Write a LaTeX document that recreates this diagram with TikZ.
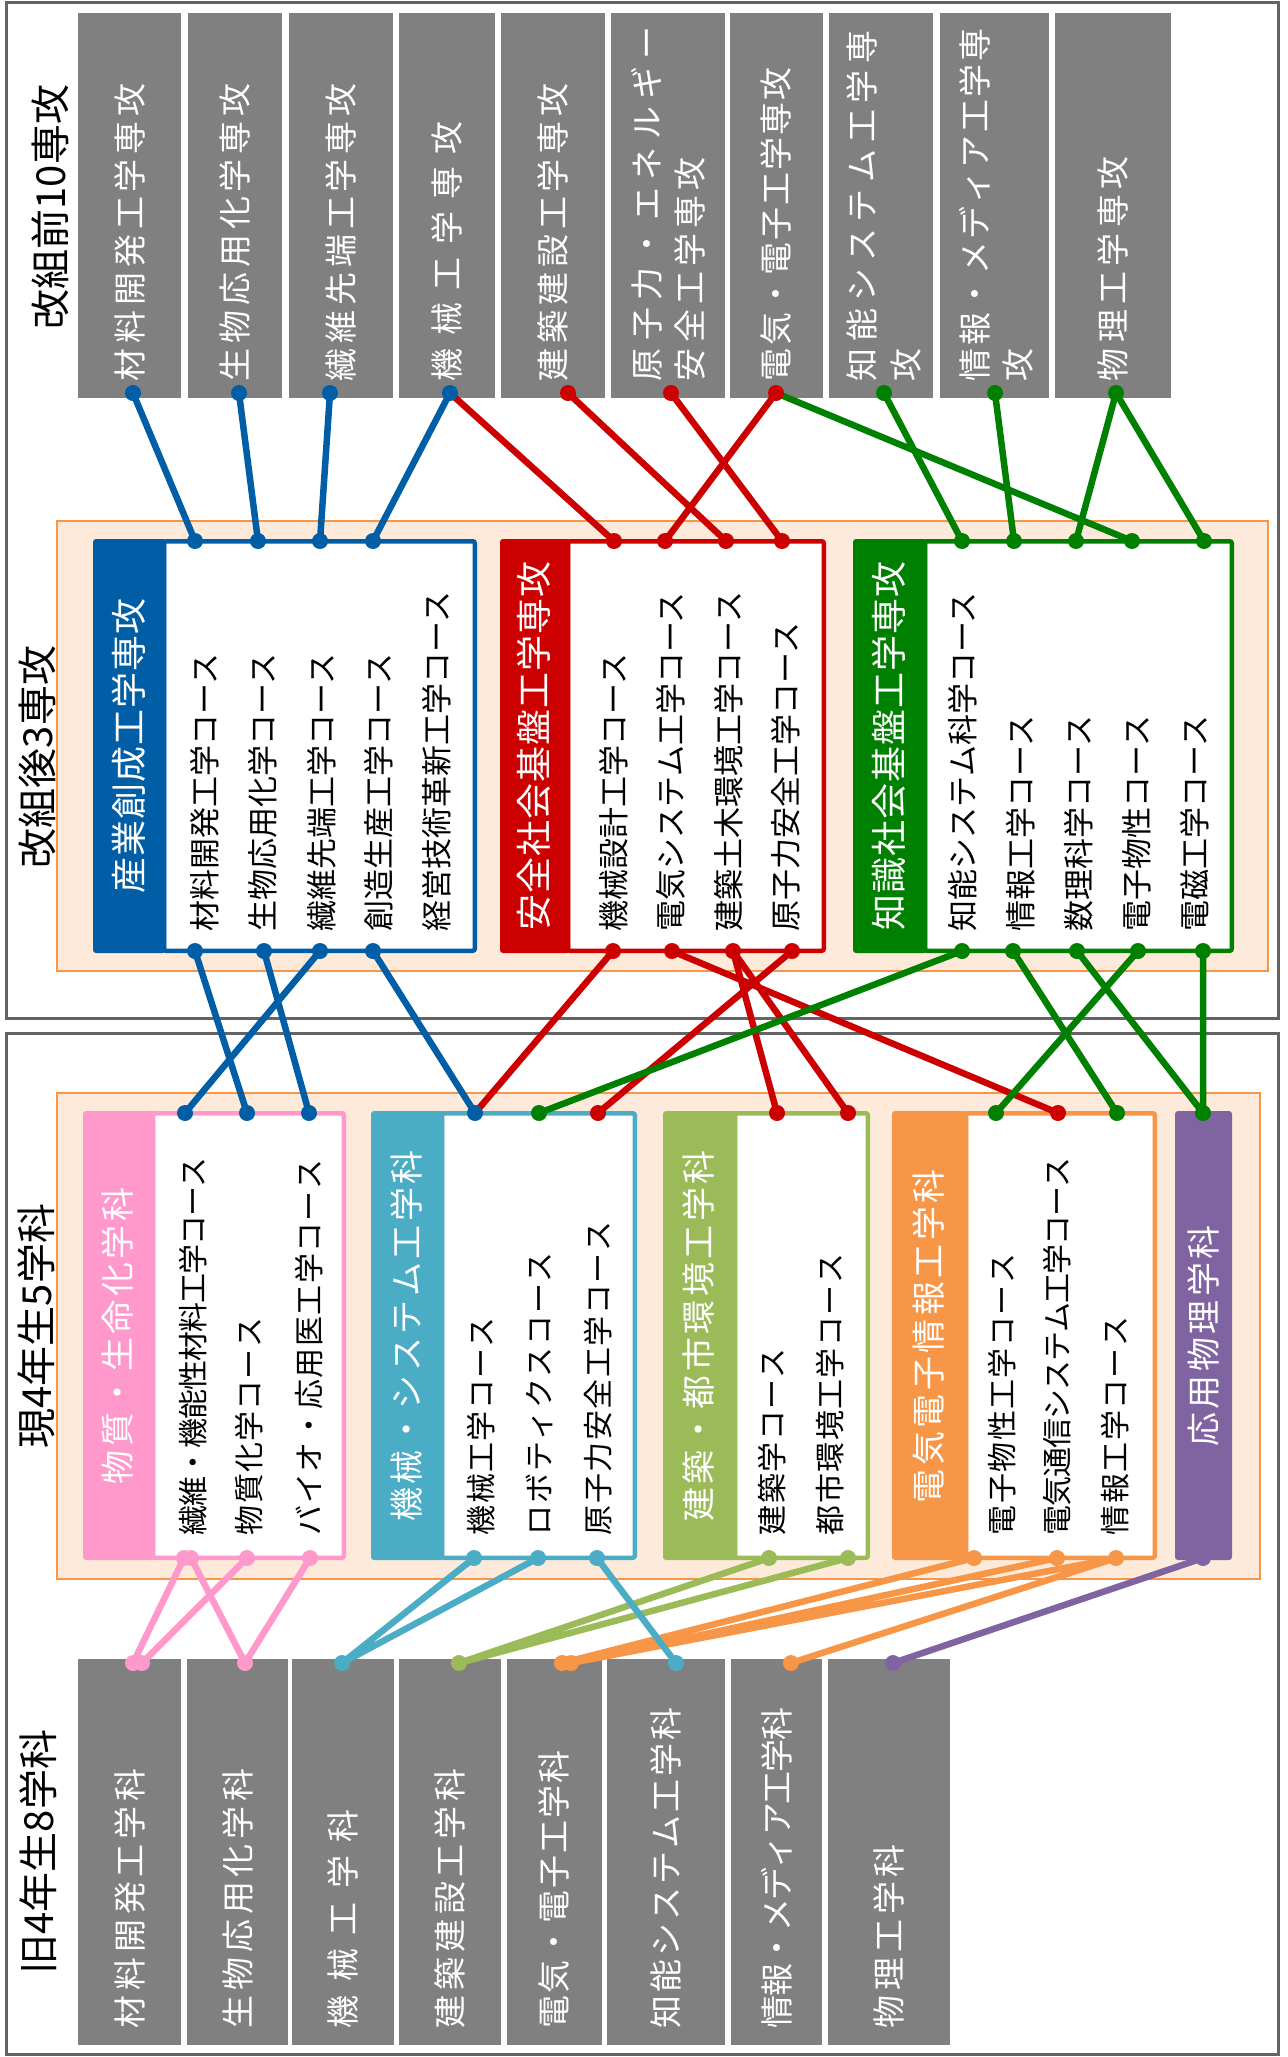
\documentclass[tikz,border=0pt]{standalone}
\usepackage{fontspec}
\setmainfont{Noto Sans CJK JP}
\ExplSyntaxOn
\NewDocumentCommand{\spacedtext}{mm}{\tl_map_inline:nn {#2} {##1\kern #1pt}\unkern}
\ExplSyntaxOff
\definecolor{cblue}{RGB}{0,94,166}
\definecolor{cred}{RGB}{204,0,0}
\definecolor{cgreen}{RGB}{0,128,0}
\definecolor{cpink}{RGB}{255,153,204}
\definecolor{ccyan}{RGB}{75,172,198}
\definecolor{colive}{RGB}{155,187,89}
\definecolor{corange}{RGB}{247,150,70}
\definecolor{cpurple}{RGB}{128,100,162}
\definecolor{cgray}{RGB}{128,128,128}
\definecolor{cpeach}{RGB}{253,234,218}
\definecolor{cframe}{RGB}{100,100,100}
\tikzset{
  conn/.style={line width=6.5pt},
  vtxt/.style={rotate=90, inner sep=0pt, outer sep=0pt},
  titletxt/.style={vtxt, text=black, font=\fontsize{40}{44}\selectfont},
  graytxt/.style={vtxt, anchor=west, text=white, font=\fontsize{33}{38}\selectfont},
  headtxt/.style={vtxt, text=white, font=\fontsize{36}{40}\selectfont},
  subhead/.style={vtxt, text=white, font=\fontsize{34}{38}\selectfont},
  coursea/.style={vtxt, anchor=west, text=black, font=\fontsize{31}{36}\selectfont},
  courseb/.style={vtxt, anchor=west, text=black, font=\fontsize{30}{34}\selectfont},
  graybox/.style={fill=cgray},
  peachbox/.style={fill=cpeach, draw=corange, line width=2pt},
  outerframe/.style={draw=cframe, line width=3pt},
  contentbox/.style={fill=white, line width=4.5pt, rounded corners=2pt},
  headbox/.style={rounded corners=3pt},
}
\begin{document}
\begin{tikzpicture}[x=1pt,y=-1pt]
\useasboundingbox (0,0) rectangle (1288,2057);
\fill[white] (0,0) rectangle (1288,2057);

% ---------- frames ----------
\draw[outerframe] (6,2.5) rectangle (1278,1018);
\draw[outerframe] (6,1033) rectangle (1278,2054);

% ---------- titles ----------
\node[titletxt] (title1) at (50,207) {改組前10専攻};
\node[titletxt] (title2) at (37,757) {改組後3専攻};
\node[titletxt] (title3) at (36,1326) {現4年生5学科};
\node[titletxt] (title4) at (38,1852) {旧4年生8学科};

% ---------- top gray boxes ----------
\fill[graybox] (78,13) rectangle (181,398);
\fill[graybox] (188,13) rectangle (282,398);
\fill[graybox] (289,13) rectangle (393,398);
\fill[graybox] (399,13) rectangle (495,398);
\fill[graybox] (501,13) rectangle (605,398);
\fill[graybox] (611,13) rectangle (725,398);
\fill[graybox] (730,13) rectangle (823,398);
\fill[graybox] (829,13) rectangle (933,398);
\fill[graybox] (940,13) rectangle (1049,398);
\fill[graybox] (1055,13) rectangle (1171,398);

\node[graytxt] (g1t) at (129.5,381) {\spacedtext{4.8}{材料開発工学専攻}};
\node[graytxt] (g2t) at (235,381) {\spacedtext{4.8}{生物応用化学専攻}};
\node[graytxt] (g3t) at (341,381) {\spacedtext{4.8}{繊維先端工学専攻}};
\node[graytxt] (g4t) at (447,381) {\spacedtext{12.4}{機械工学専攻}};
\node[graytxt] (g5t) at (553,381) {\spacedtext{4.8}{建築建設工学専攻}};
\node[graytxt] (g6t) at (647,381) {\spacedtext{7.2}{原子力・エネルギー}};
\node[graytxt] (g6u) at (690,381) {\spacedtext{5.1}{安全工学専攻}};
\node[graytxt] (g7t) at (776.5,381) {\spacedtext{2.1}{電気・電子工学専攻}};
\node[graytxt] (g8t) at (862,381) {\spacedtext{6.7}{知能システム工学専}};
\node[graytxt] (g8u) at (906,381) {攻};
\node[graytxt] (g9t) at (975,381) {\spacedtext{2.5}{情報・メディア工学専}};
\node[graytxt] (g9u) at (1018,381) {攻};
\node[graytxt] (g10t) at (1113,381) {\spacedtext{5.3}{物理工学専攻}};

% ---------- middle section (after reorganisation) ----------
\draw[peachbox] (57,521) rectangle (1268,971);

\draw[contentbox, draw=cblue] (164,541.25) rectangle (474.75,950.75);
\fill[cblue, headbox] (93,539) rectangle (166,953);
\draw[contentbox, draw=cred] (568,541.25) rectangle (823.75,950.75);
\fill[cred, headbox] (500,539) rectangle (570,953);
\draw[contentbox, draw=cgreen] (925,541.25) rectangle (1231.75,950.75);
\fill[cgreen, headbox] (853,539) rectangle (927,953);

\node[headtxt] (hblue) at (128.5,746) {\spacedtext{1}{産業創成工学専攻}};
\node[headtxt] (hred) at (534,746) {\spacedtext{1}{安全社会基盤工学専攻}};
\node[headtxt] (hgreen) at (889,746) {\spacedtext{1}{知識社会基盤工学専攻}};

\node[coursea] (ca1) at (205,931) {材料開発工学コース};
\node[coursea] (ca2) at (263,931) {生物応用化学コース};
\node[coursea] (ca3) at (322,931) {繊維先端工学コース};
\node[coursea] (ca4) at (379,931) {創造生産工学コース};
\node[coursea] (ca5) at (437,931) {経営技術革新工学コース};
\node[coursea] (cr1) at (614,931) {機械設計工学コース};
\node[coursea] (cr2) at (671,931) {電気システム工学コース};
\node[coursea] (cr3) at (729,931) {建築土木環境工学コース};
\node[coursea] (cr4) at (786,931) {原子力安全工学コース};
\node[coursea] (cg1) at (963,931) {知能システム科学コース};
\node[coursea] (cg2) at (1021,931) {情報工学コース};
\node[coursea] (cg3) at (1079,931) {数理科学コース};
\node[coursea] (cg4) at (1137,931) {電子物性コース};
\node[coursea] (cg5) at (1195,931) {電磁工学コース};

% ---------- lower section (current departments) ----------
\draw[peachbox] (57,1093) rectangle (1260,1579);

\draw[contentbox, draw=cpink] (153,1113.25) rectangle (343.75,1557.75);
\fill[cpink, headbox] (83,1111) rectangle (155,1560);
\draw[contentbox, draw=ccyan] (442,1113.25) rectangle (634.75,1557.75);
\fill[ccyan, headbox] (371,1111) rectangle (444,1560);
\draw[contentbox, draw=colive] (735,1113.25) rectangle (867.75,1557.75);
\fill[colive, headbox] (663,1111) rectangle (737,1560);
\draw[contentbox, draw=corange] (966,1113.25) rectangle (1154.75,1557.75);
\fill[corange, headbox] (892,1111) rectangle (968,1560);
\fill[cpurple, headbox] (1175,1111) rectangle (1232,1560);

\node[subhead] (hpink) at (118,1336) {\spacedtext{3.5}{物質・生命化学科}};
\node[subhead] (hcyan) at (406.5,1336) {\spacedtext{3.5}{機械・システム工学科}};
\node[subhead] (holive) at (699,1336) {\spacedtext{3.5}{建築・都市環境工学科}};
\node[subhead] (horange) at (929,1336) {\spacedtext{3.5}{電気電子情報工学科}};
\node[subhead] (hpurple) at (1203.5,1336) {\spacedtext{3.5}{応用物理学科}};

\node[courseb] (cp1) at (193,1535) {\spacedtext{-1}{繊維・機能性材料工学コース}};
\node[courseb] (cp2) at (249,1535) {\spacedtext{1.2}{物質化学コース}};
\node[courseb] (cp3) at (309,1535) {\spacedtext{1.4}{バイオ・応用医工学コース}};
\node[courseb] (cc1) at (481,1535) {\spacedtext{1.3}{機械工学コース}};
\node[courseb] (cc2) at (539,1535) {\spacedtext{1.6}{ロボティクスコース}};
\node[courseb] (cc3) at (598,1535) {\spacedtext{1.5}{原子力安全工学コース}};
\node[courseb] (co1) at (772,1535) {\spacedtext{1.4}{建築学コース}};
\node[courseb] (co2) at (830,1535) {\spacedtext{1.4}{都市環境工学コース}};
\node[courseb] (ce1) at (1002,1535) {\spacedtext{1.4}{電子物性工学コース}};
\node[courseb] (ce2) at (1057,1535) {\spacedtext{-1}{電気通信システム工学コース}};
\node[courseb] (ce3) at (1115,1535) {\spacedtext{1.4}{情報工学コース}};

% ---------- bottom gray boxes (old departments) ----------
\fill[graybox] (78,1659) rectangle (181,2045);
\fill[graybox] (187,1659) rectangle (288,2045);
\fill[graybox] (292,1659) rectangle (394,2045);
\fill[graybox] (399,1659) rectangle (501,2045);
\fill[graybox] (507,1659) rectangle (602,2045);
\fill[graybox] (607,1659) rectangle (725,2045);
\fill[graybox] (731,1659) rectangle (822,2045);
\fill[graybox] (828,1659) rectangle (950,2045);

\node[graytxt] (o1t) at (129.5,2028) {\spacedtext{4.7}{材料開発工学科}};
\node[graytxt] (o2t) at (237.5,2028) {\spacedtext{4.7}{生物応用化学科}};
\node[graytxt] (o3t) at (343,2028) {\spacedtext{13.5}{機械工学科}};
\node[graytxt] (o4t) at (450,2028) {\spacedtext{4.7}{建築建設工学科}};
\node[graytxt] (o5t) at (554.5,2028) {\spacedtext{2}{電気・電子工学科}};
\node[graytxt] (o6t) at (666,2028) {\spacedtext{3}{知能システム工学科}};
\node[graytxt] (o7t) at (776.5,2028) {\spacedtext{-1}{情報・メディア工学科}};
\node[graytxt] (o8t) at (889,2028) {\spacedtext{4.7}{物理工学科}};

% ---------- connection points ----------
\coordinate (gd1) at (133,393);  \coordinate (gd2) at (239,393);
\coordinate (gd3) at (330,393);  \coordinate (gd4) at (450,393);
\coordinate (gd5) at (568,393);  \coordinate (gd6) at (671,393);
\coordinate (gd7) at (776,393);  \coordinate (gd8) at (884,393);
\coordinate (gd9) at (995,393);  \coordinate (gd10) at (1116,393);

\coordinate (bt1) at (195,541); \coordinate (bt2) at (258,541);
\coordinate (bt3) at (320,541); \coordinate (bt4) at (373,541);
\coordinate (rt1) at (614,541); \coordinate (rt2) at (665,541);
\coordinate (rt3) at (726,541); \coordinate (rt4) at (782,541);
\coordinate (nt1) at (962,541); \coordinate (nt2) at (1014,541);
\coordinate (nt3) at (1076,541); \coordinate (nt4) at (1132,541);
\coordinate (nt5) at (1204,541);

\coordinate (bb1) at (195,951); \coordinate (bb2) at (264,951);
\coordinate (bb3) at (320,951); \coordinate (bb4) at (373,951);
\coordinate (rb1) at (613,951); \coordinate (rb2) at (672,951);
\coordinate (rb3) at (733,951); \coordinate (rb4) at (792,951);
\coordinate (nb1) at (962,951); \coordinate (nb2) at (1013,951);
\coordinate (nb3) at (1077,951); \coordinate (nb4) at (1138,951);
\coordinate (nb5) at (1203,951);

\coordinate (pt1) at (185,1113); \coordinate (pt2) at (247,1113);
\coordinate (pt3) at (309,1113);
\coordinate (ct1) at (475,1113); \coordinate (ct2) at (539,1113);
\coordinate (ct3) at (598,1113);
\coordinate (ot1) at (777,1113); \coordinate (ot2) at (848,1113);
\coordinate (et1) at (996,1113); \coordinate (et2) at (1058,1113);
\coordinate (et3) at (1117,1113);
\coordinate (ut) at (1203,1113);

\coordinate (pb1a) at (184,1558); \coordinate (pb1b) at (191,1558);
\coordinate (pb2) at (247,1558); \coordinate (pb3) at (310,1558);
\coordinate (cb1) at (474,1558); \coordinate (cb2) at (538,1558);
\coordinate (cb3) at (597,1558);
\coordinate (ob1) at (769,1558); \coordinate (ob2) at (848,1558);
\coordinate (eb1) at (974,1558); \coordinate (eb2) at (1057,1558);
\coordinate (eb3) at (1116,1558);
\coordinate (ub) at (1203,1558);

\coordinate (od1a) at (133,1663); \coordinate (od1b) at (142,1663);
\coordinate (od2) at (245,1663);  \coordinate (od3) at (342,1663);
\coordinate (od4) at (459,1663);  \coordinate (od5a) at (562,1663);
\coordinate (od5b) at (571,1663); \coordinate (od6) at (676,1663);
\coordinate (od7) at (791,1663);  \coordinate (od8) at (893,1663);

% ---------- connectors: before -> after ----------
\draw[conn,cblue] (gd1)--(bt1) (gd2)--(bt2) (gd3)--(bt3) (gd4)--(bt4);
\draw[conn,cred] (gd4)--(rt1) (gd5)--(rt3) (gd6)--(rt4) (gd7)--(rt2);
\draw[conn,cgreen] (gd7)--(nt4) (gd8)--(nt1) (gd9)--(nt2) (gd10)--(nt3) (gd10)--(nt5);

% ---------- connectors: after -> current ----------
\draw[conn,cblue] (bb1)--(pt2) (bb2)--(pt3) (bb3)--(pt1) (bb4)--(ct1);
\draw[conn,cred] (rb1)--(ct1) (rb2)--(et2) (rb3)--(ot1) (rb3)--(ot2) (rb4)--(ct3);
\draw[conn,cgreen] (nb1)--(ct2) (nb2)--(et3) (nb3)--(ut) (nb4)--(et1) (nb5)--(ut);

% ---------- connectors: current -> old ----------
\draw[conn,cpink] (pb1a)--(od1a) (pb1b)--(od2) (pb2)--(od1b) (pb3)--(od2);
\draw[conn,colive] (ob1)--(od4) (ob2)--(od4);
\draw[conn,corange] (eb1)--(od5a) (eb2)--(od5b) (eb3)--(od5b) (eb3)--(od7);
\draw[conn,cpurple] (ub)--(od8);
\draw[conn,ccyan] (cb1)--(od3) (cb2)--(od3) (cb3)--(od6);

% ---------- dots ----------
\foreach \p in {gd1,gd2,gd3,gd4,bt1,bt2,bt3,bt4,bb1,bb2,bb3,bb4,pt1,pt2,pt3,ct1}
  \fill[cblue] (\p) circle (8pt);
\foreach \p in {gd5,gd6,gd7,rt1,rt2,rt3,rt4,rb1,rb2,rb3,rb4,ct3,ot1,ot2,et2}
  \fill[cred] (\p) circle (8pt);
\foreach \p in {gd8,gd9,gd10,nt1,nt2,nt3,nt4,nt5,nb1,nb2,nb3,nb4,nb5,ct2,et1,et3,ut}
  \fill[cgreen] (\p) circle (8pt);
\foreach \p in {pb1a,pb1b,pb2,pb3,od1a,od1b,od2}
  \fill[cpink] (\p) circle (8pt);
\foreach \p in {cb1,cb2,cb3,od3,od6}
  \fill[ccyan] (\p) circle (8pt);
\foreach \p in {ob1,ob2,od4}
  \fill[colive] (\p) circle (8pt);
\foreach \p in {eb1,eb2,eb3,od5a,od5b,od7}
  \fill[corange] (\p) circle (8pt);
\foreach \p in {ub,od8}
  \fill[cpurple] (\p) circle (8pt);
\end{tikzpicture}
\end{document}
